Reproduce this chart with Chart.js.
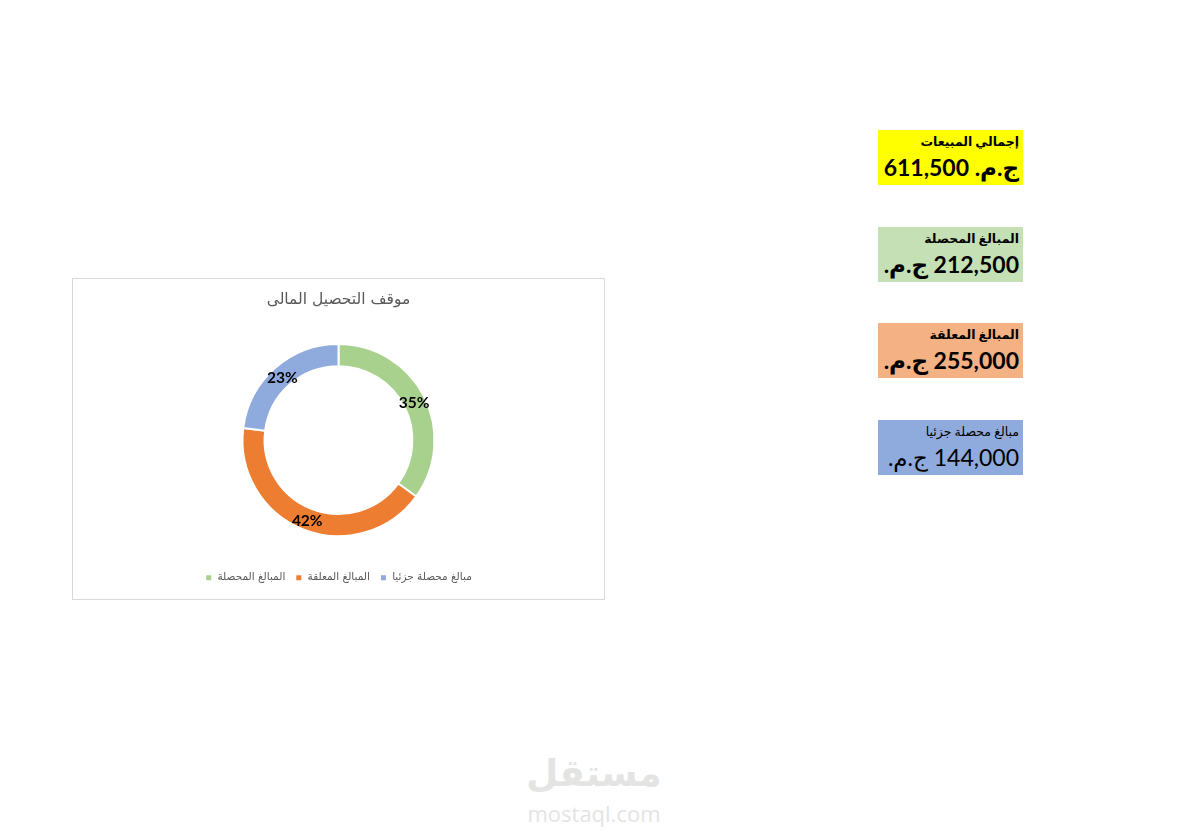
<!DOCTYPE html>
<html lang="ar">
<head>
<meta charset="utf-8">
<title>موقف التحصيل المالى</title>
<script src="https://cdn.jsdelivr.net/npm/chart.js@4.4.0/dist/chart.umd.min.js"></script>
<style>
  html, body { margin: 0; padding: 0; background: #fff; }
  body { width: 1189px; height: 838px; position: relative; overflow: hidden; font-family: Lato, "DejaVu Sans", sans-serif; }
  .chart-box { position: absolute; left: 72px; top: 278px; width: 531px; height: 320px; border: 1px solid #d9d9d9; background: #fff; }
  .kpi { position: absolute; left: 878px; width: 145px; height: 55px; direction: rtl; text-align: right; box-sizing: border-box; padding: 2px 4px 0 3px; color: #000; }
  .kpi .label { font-size: 12.5px; font-weight: 700; line-height: 20px; }
  .kpi .value { font-size: 23px; font-weight: 700; line-height: 31px; white-space: nowrap; }
  .kpi.plain .value, .kpi.plain .label { font-weight: 400; }
  .watermark { position: absolute; left: 494px; width: 200px; text-align: center; color: #e4e4e4; font-family: "DejaVu Sans", sans-serif; }
</style>
</head>
<body>

<div class="chart-box"><canvas id="collectionChart"></canvas></div>

<div class="kpi" style="top:130px; background:#ffff00;">
  <div class="label">إجمالي المبيعات</div>
  <div class="value">ج.م. 611,500</div>
</div>
<div class="kpi" style="top:227px; background:#c5e0b4;">
  <div class="label">المبالغ المحصلة</div>
  <div class="value">212,500 ج.م.</div>
</div>
<div class="kpi" style="top:323px; background:#f4b183;">
  <div class="label">المبالغ المعلقة</div>
  <div class="value">255,000 ج.م.</div>
</div>
<div class="kpi plain" style="top:420px; background:#8faadc;">
  <div class="label">مبالغ محصلة جزئيا</div>
  <div class="value">144,000 ج.م.</div>
</div>

<div class="watermark" style="top:754px; height:40px; font-size:37px; font-weight:700; line-height:40px;">مستقل</div>
<div class="watermark" style="top:802px; height:22px; font-size:22px; line-height:22px; font-family: 'Open Sans', sans-serif;">mostaql.com</div>

<script>
// chart data
const categories = ['المبالغ المحصلة', 'المبالغ المعلقة', 'مبالغ محصلة جزئيا'];
const shares = [35, 42, 23];
const colors = ['#a9d18e', '#ed7d31', '#8faadc'];

// draws the % labels in the middle of each ring segment
const sliceLabels = {
  id: 'sliceLabels',
  afterDatasetsDraw(chart) {
    const ctx = chart.ctx;
    const meta = chart.getDatasetMeta(0);
    ctx.save();
    ctx.font = 'bold 15.5px Lato, "DejaVu Sans", sans-serif';
    ctx.fillStyle = '#000';
    ctx.textAlign = 'center';
    ctx.textBaseline = 'middle';
    meta.data.forEach((arc, i) => {
      const p = arc.tooltipPosition();
      ctx.fillText(shares[i] + '%', p.x, p.y + 2);
    });
    ctx.restore();
  }
};

new Chart(document.getElementById('collectionChart'), {
  type: 'doughnut',
  data: {
    labels: categories,
    datasets: [{
      data: shares,
      backgroundColor: colors,
      borderColor: '#fff',
      borderWidth: 2
    }]
  },
  options: {
    responsive: true,
    maintainAspectRatio: false,
    animation: false,
    radius: 96,
    cutout: '77%',
    layout: { padding: { bottom: 6 } },
    plugins: {
      title: {
        display: true,
        text: 'موقف التحصيل المالى',
        color: '#595959',
        font: { family: '"DejaVu Sans", sans-serif', size: 15.5, weight: 'normal' },
        padding: { top: 12, bottom: 8 }
      },
      legend: {
        position: 'bottom',
        labels: {
          color: '#595959',
          font: { family: '"DejaVu Sans", sans-serif', size: 10.5 },
          boxWidth: 7,
          boxHeight: 7,
          padding: 10
        }
      },
      tooltip: { enabled: false }
    }
  },
  plugins: [sliceLabels]
});
</script>
</body>
</html>
